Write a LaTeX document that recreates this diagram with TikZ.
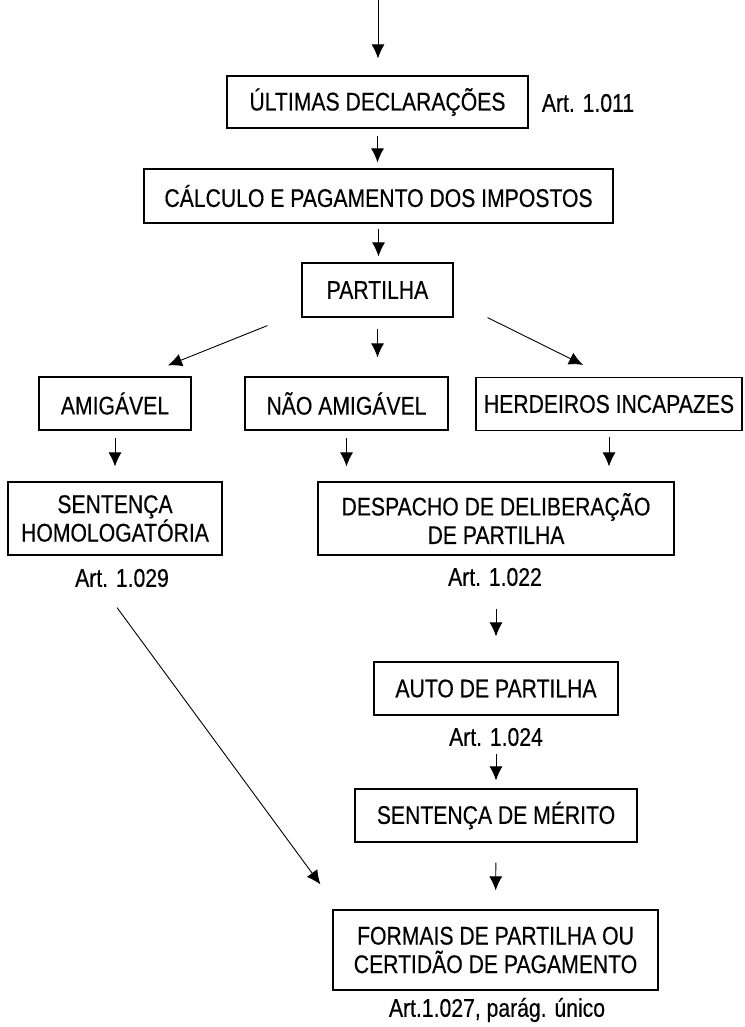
\documentclass[tikz,border=0pt]{standalone}
\usepackage{fontspec}
\setmainfont{Liberation Sans}[FakeStretch=0.83,FakeBold=0.4]
\usetikzlibrary{arrows.meta,calc}
\begin{document}
\begin{tikzpicture}[x=1pt,y=-1pt,
		box/.style={draw, line width=1.2pt, inner sep=0pt, align=center},
		arr/.style={-{Latex[length=14pt,width=13pt]}, line width=0.9pt},
		font=\fontsize{25.5}{28.5}\selectfont]
			\useasboundingbox (0,0) rectangle (744,1027);
			\coordinate (top) at (378,0);
			\node[box, minimum width=301pt, minimum height=52pt] (ult) at (377.5,102) {ÚLTIMAS DECLARAÇÕES};
			\node (art1011) at (588,103) {Art. 1.011};
			\node[box, minimum width=469pt, minimum height=54pt] (calc) at (378.5,196) {CÁLCULO E PAGAMENTO DOS IMPOSTOS};
			\node[box, minimum width=151pt, minimum height=54pt] (part) at (377.5,290) {PARTILHA};
			\node[box, minimum width=152pt, minimum height=53pt] (amig) at (115,403.5) {AMIGÁVEL};
			\node[box, minimum width=203pt, minimum height=53pt] (nao) at (346.5,403.5) {NÃO AMIGÁVEL};
			\node[box, minimum width=266pt, minimum height=53pt] (herd) at (609,404) {HERDEIROS INCAPAZES};
			\node[box, minimum width=214pt, minimum height=73pt] (sent) at (115,518.5) {SENTENÇA\\HOMOLOGATÓRIA};
			\node[box, minimum width=356pt, minimum height=73pt] (desp) at (496,518.5) {DESPACHO DE DELIBERAÇÃO\\DE PARTILHA};
			\node (art1029) at (122,578) {Art. 1.029};
			\node (art1022) at (495,577) {Art. 1.022};
			\node[box, minimum width=244pt, minimum height=53pt] (auto) at (496,688.5) {AUTO DE PARTILHA};
			\node (art1024) at (496,737) {Art. 1.024};
			\node[box, minimum width=282pt, minimum height=53pt] (merit) at (496,815.5) {SENTENÇA DE MÉRITO};
			\node[box, minimum width=325pt, minimum height=80pt] (formais) at (495.5,950) {FORMAIS DE PARTILHA OU\\CERTIDÃO DE PAGAMENTO};
			\node (art1027) at (497,1010) {Art.1.027, parág. único};
			% setas
			\draw[arr, shorten >=17pt] (top) -- (top |- ult.north);
			\draw[arr, shorten <=7pt, shorten >=6pt] (ult.south) -- (ult.south |- calc.north);
			\draw[arr, shorten <=5pt, shorten >=6pt] (calc.south) -- (calc.south |- part.north);
			\draw[arr] ($(part.south west)+(-34,8)$) -- ($(amig.north)+(53,-11)$);
			\draw[arr, shorten <=11pt, shorten >=19pt] (part.south) -- (part.south |- nao.north);
			\draw[arr] ($(part.south east)+(34,0)$) -- ($(herd.north)+(-26,-12)$);
			\draw[arr, shorten <=7pt, shorten >=15pt] (amig.south) -- (amig.south |- sent.north);
			\draw[arr, shorten <=7pt, shorten >=15pt] (nao.south) -- (nao.south |- desp.north);
			\draw[arr, shorten <=6pt, shorten >=15pt] (herd.south) -- (herd.south |- desp.north);
			\draw[arr, shorten <=53pt, shorten >=25pt] (desp.south) -- (auto.north);
			\draw[arr, shorten <=4pt, shorten >=8pt] (art1024.south) -- (merit.north);
			\draw[arr, shorten <=20pt, shorten >=19pt] (merit.south) -- (formais.north);
			\draw[arr] ($(art1029.south)+(-5,17)$) -- ($(formais.north west)+(-12,-25)$);
		\end{tikzpicture}
\end{document}
